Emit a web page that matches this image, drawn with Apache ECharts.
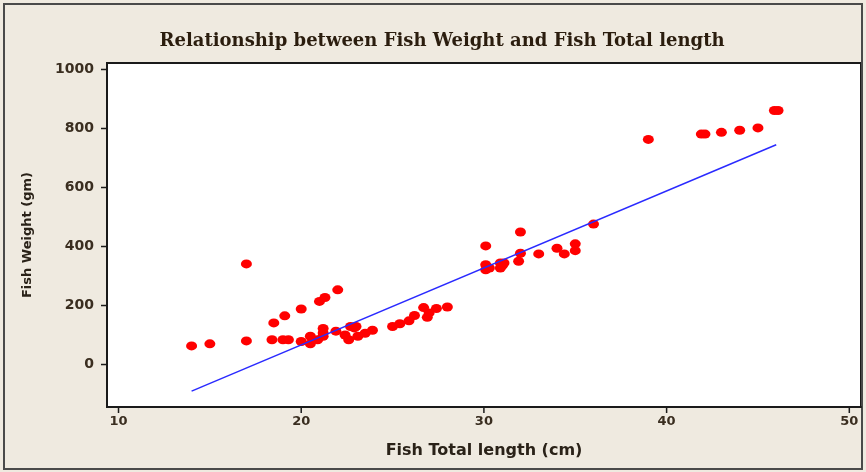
<!DOCTYPE html>
<html><head><meta charset="utf-8">
<script src="https://cdn.jsdelivr.net/npm/echarts@6/dist/echarts.min.js"></script>
<style>html,body{margin:0;padding:0;background:#efeae0}#c{width:866px;height:472px}</style>
</head><body><div id="c"></div>
<script>
const titleText = 'Relationship between Fish Weight and Fish Total length';
const xTitle = 'Fish Total length (cm)';
const yTitle = 'Fish Weight (gm)';
const xTicks = [10, 20, 30, 40, 50];
const yTicks = [0, 200, 400, 600, 800, 1000];
const lengthCm = [14.0,15.0,17.0,17.0,18.4,19.0,19.3,18.5,19.1,20.0,21.0,21.3,22.0,20.0,20.5,20.5,21.2,21.2,20.9,21.2,21.9,22.6,22.9,23.1,22.7,23.0,23.9,23.5,22.4,25.0,25.4,25.9,26.2,26.7,26.9,27.0,27.4,28.0,30.1,30.1,30.1,30.3,30.9,30.9,31.1,31.0,32.0,32.0,31.9,33.0,34.0,34.4,35.0,35.0,36.0,39.0,41.9,42.1,43.0,44.0,45.0,45.9,46.1];
const weightGm = [63,70,341,80,84,84,84,141,165,188,214,227,253,78,96,70,122,96,84,107,113,84,124,96,129,129,116,106,100,129,138,148,166,193,160,175,190,195,402,338,321,327,344,327,344,335,449,377,350,375,394,375,409,386,476,763,781,781,787,794,802,861,861];
const fitX = [14, 46];
const fitY = [-90, 745];

const X_MIN = 9.37, X_MAX = 50.64, Y_MIN = -144, Y_MAX = 1022;
const chart = echarts.init(document.getElementById('c'));
const pts = lengthCm.map((x, i) => [x, weightGm[i]]);
const linePts = fitX.map((x, i) => [x, fitY[i]]);
const lblColor = '#3a2e20';
const frameRect = {
  type: 'rect', shape: {x: 4, y: 4, width: 858, height: 465},
  style: {fill: 'none', stroke: '#4a4a4a', lineWidth: 2}, silent: true, z: 0
};
chart.setOption({
  backgroundColor: '#efeae0',
  animation: false,
  title: {
    text: titleText, left: 437, top: 27, textAlign: 'center',
    textStyle: {fontFamily: 'DejaVu Serif', fontWeight: 'bold', fontSize: 18, color: '#2b1d0e'}
  },
  graphic: [frameRect],
  grid: {left: 107, right: 5, top: 63, bottom: 65, show: true, backgroundColor: '#ffffff', borderColor: '#1a1a1a', borderWidth: 2},
  xAxis: {
    type: 'value', min: X_MIN, max: X_MAX,
    name: xTitle, nameLocation: 'middle', nameGap: 36,
    nameTextStyle: {fontFamily: 'DejaVu Sans', fontWeight: 'bold', fontSize: 16, color: '#2a2218'},
    axisLine: {show: true, onZero: false, lineStyle: {color: '#1a1a1a', width: 2}},
    splitLine: {show: false},
    axisTick: {show: false},
    axisLabel: {customValues: xTicks, margin: 8, fontFamily: 'DejaVu Sans', fontWeight: 'bold', fontSize: 13, color: lblColor,
      formatter: v => String(v)}
  },
  yAxis: {
    type: 'value', min: Y_MIN, max: Y_MAX,
    name: yTitle, nameLocation: 'middle', nameGap: 73, nameRotate: 90,
    nameTextStyle: {fontFamily: 'DejaVu Sans', fontWeight: 'bold', fontSize: 13, color: '#2a2218'},
    axisLine: {show: true, onZero: false, lineStyle: {color: '#1a1a1a', width: 2}},
    splitLine: {show: false},
    axisTick: {show: false},
    axisLabel: {customValues: yTicks, margin: 13, fontFamily: 'DejaVu Sans', fontWeight: 'bold', fontSize: 14, color: lblColor,
      formatter: v => String(v)}
  },
  series: [{
    type: 'scatter', data: pts, symbol: 'circle', symbolSize: [11, 9],
    itemStyle: {color: '#ff0000', opacity: 1}
  }, {
    type: 'line', data: linePts, symbol: 'none',
    lineStyle: {color: '#2a2aff', width: 1.5}
  }]
});
// tick marks placed through the chart's own scales
const tickEls = [];
xTicks.forEach(v => {
  const p = chart.convertToPixel({gridIndex: 0}, [v, Y_MIN]);
  tickEls.push({type: 'line', shape: {x1: p[0], y1: p[1] + 1, x2: p[0], y2: p[1] + 6},
    style: {stroke: '#1a1a1a', lineWidth: 1.5}, silent: true, z: 100});
});
yTicks.forEach(v => {
  const p = chart.convertToPixel({gridIndex: 0}, [X_MIN, v]);
  tickEls.push({type: 'line', shape: {x1: p[0] - 1, y1: p[1], x2: p[0] - 6, y2: p[1]},
    style: {stroke: '#1a1a1a', lineWidth: 1.5}, silent: true, z: 100});
});
chart.setOption({graphic: [frameRect].concat(tickEls)}, {replaceMerge: ['graphic']});
</script></body></html>
